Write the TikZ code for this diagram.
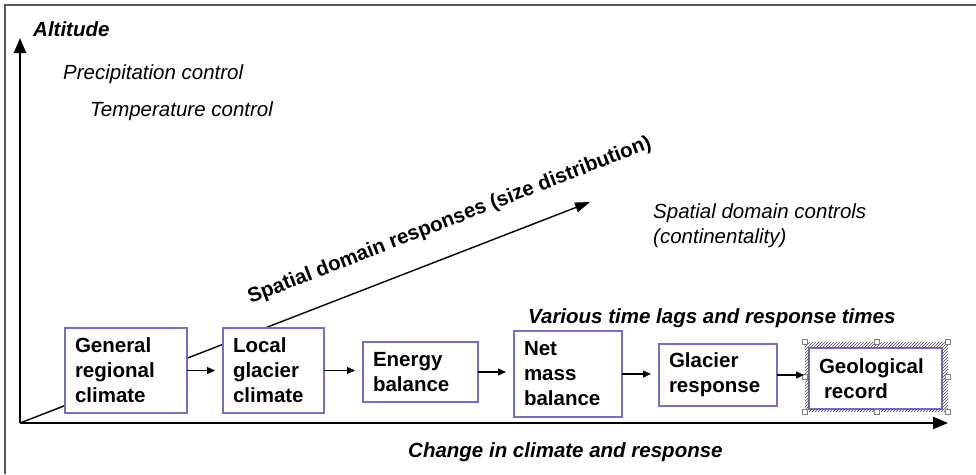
\documentclass[tikz,border=0pt]{standalone}
\usepackage{fontspec}
\setmainfont{Liberation Sans}
\usetikzlibrary{
    arrows.meta,
    patterns,
    positioning
}
\definecolor{boxblue}{RGB}{112,112,196}

\begin{document}
\begin{tikzpicture}[
    x=1pt, y=-1pt,
    climatebox/.style = {rectangle, draw=boxblue, fill=white,
                         line width=1.2pt, inner xsep=10pt, inner ysep=2pt,
                         outer sep=0pt, align=left,
                         font=\bfseries\fontsize{20.5}{25}\selectfont},
    axislabel/.style = {anchor=base west, inner sep=0pt,
                        font=\fontsize{20.5}{25}\selectfont\itshape},
    boldlabel/.style = {axislabel,
                        font=\fontsize{20.5}{25}\selectfont\bfseries\itshape},
    axisarrow/.style = {line width=2.3pt, -{Triangle[length=15pt, width=12pt]}},
    flowarrow/.style = {line width=1.3pt, -{Triangle[length=8pt, width=7pt]},
                        shorten >=8pt},
    handle/.style = {rectangle, draw=gray, fill=white, line width=0.6pt,
                     minimum size=5pt, inner sep=0pt},
    node distance=36pt
]
    \useasboundingbox (0,0) rectangle (976,474);
    \draw[gray!70!black, line width=2pt] (976,5) -- (5,5) -- (5,474);

    \coordinate (O) at (20,423);
    \coordinate (Ytop) at (20,38);
    \coordinate (Xend) at (948,423);
    \coordinate (Dend) at (590,202);

    \draw[line width=1.4pt, -{Triangle[length=15pt, width=10pt]}] (O) -- (Dend)
        node[pos=0.775, sloped, above=21pt, inner sep=2pt,
             font=\bfseries\fontsize{20.5}{25}\selectfont] (SDR)
        {Spatial domain responses (size distribution)};

    \node[climatebox, text width=102pt, minimum height=85pt] (GRC) at (126,370.5) {General\\regional\\climate};
    \node[climatebox, text width=81pt, minimum height=85pt] (LGC) [right=of GRC] {Local\\glacier\\climate};
    \node[climatebox, text width=95pt, minimum height=60pt] (EB) [right=39pt of LGC, yshift=-1.5pt] {Energy\\balance};
    \node[climatebox, text width=88pt, minimum height=86pt] (NMB) [right=of EB, yshift=-2pt] {Net\\mass\\balance};
    \node[climatebox, text width=98pt, minimum height=62pt] (GR) [right=37pt of NMB, yshift=-1pt] {Glacier\\response};
    \node[climatebox, text width=113pt, minimum height=61pt] (GEO) [right=32pt of GR, yshift=-3.5pt] {Geological\\\hspace{5pt}record};

    \node[inner sep=0pt, minimum width=143pt, minimum height=70pt] (GEOsel) at ([xshift=1pt, yshift=1.5pt]GEO.center) {};
    \fill[pattern=north east lines, pattern color=gray!60!black, even odd rule]
        (GEOsel.north west) rectangle (GEOsel.south east)
        (GEO.north west) rectangle (GEO.south east);
    \foreach \a/\n in {north west/1, north/2, north east/3, east/4,
                       south east/5, south/6, south west/7, west/8}
        \node[handle] (handle\n) at (GEOsel.\a) {};

    \draw[flowarrow] (GRC.east) -- (GRC.east -| LGC.west);
    \draw[flowarrow] (LGC.east) -- (LGC.east -| EB.west);
    \draw[flowarrow] (EB.east) -- (EB.east -| NMB.west);
    \draw[flowarrow] (NMB.east) -- (NMB.east -| GR.west);
    \draw[flowarrow, shorten >=5pt] (GR.east) -- (GR.east -| GEO.west);

    \draw[axisarrow] (O) -- (Ytop);
    \draw[axisarrow] (O) -- (Xend);

    \node[boldlabel] (ALT) at (33,36) {Altitude};
    \node[axislabel] (PC) at (63,79) {Precipitation control};
    \node[axislabel] (TC) at (90,116) {Temperature control};
    \node[axislabel, align=left] (SDC) at (653,243) {Spatial domain controls\\(continentality)};
    \node[boldlabel] (VTL) at (528,323) {Various time lags and response times};
    \node[boldlabel] (CCR) at (408,457) {Change in climate and response};
\end{tikzpicture}
\end{document}
